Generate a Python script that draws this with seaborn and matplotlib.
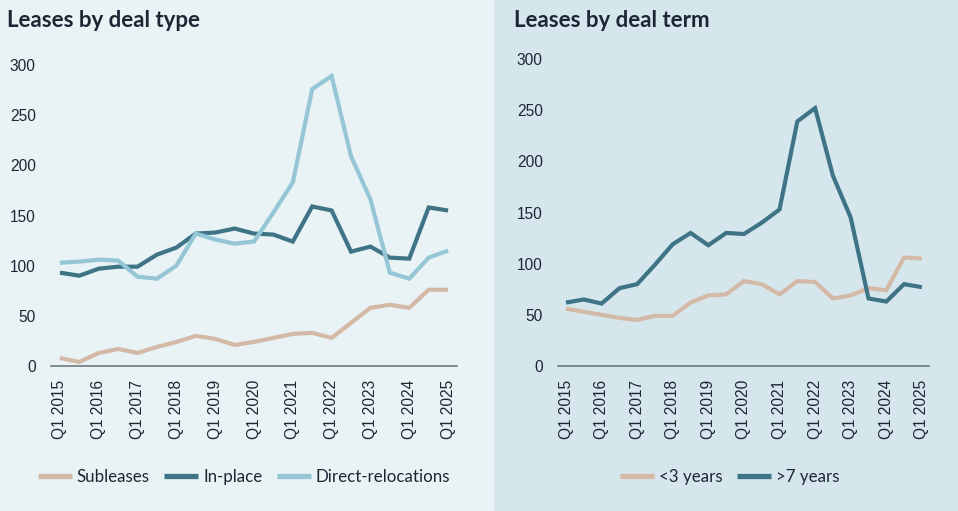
import numpy as np
import pandas as pd
import matplotlib
matplotlib.use("Agg")
import matplotlib.pyplot as plt
import seaborn as sns
from matplotlib.patches import Rectangle

# ---------------- data ----------------
periods = ["Q1 2015", "Q3 2015", "Q1 2016", "Q3 2016", "Q1 2017", "Q3 2017",
           "Q1 2018", "Q3 2018", "Q1 2019", "Q3 2019", "Q1 2020", "Q3 2020",
           "Q1 2021", "Q3 2021", "Q1 2022", "Q3 2022", "Q1 2023", "Q3 2023",
           "Q1 2024", "Q3 2024", "Q1 2025"]
tick_labels = ["Q1 2015", "Q1 2016", "Q1 2017", "Q1 2018", "Q1 2019", "Q1 2020",
               "Q1 2021", "Q1 2022", "Q1 2023", "Q1 2024", "Q1 2025"]

subleases = [8, 4, 13, 17, 13, 19, 24, 30, 27, 21, 24, 28, 32, 33, 28, 43, 58, 61, 58, 76, 76]
in_place = [93, 90, 97, 99, 99, 111, 118, 132, 133, 137, 132, 131, 124, 159, 155, 114, 119, 108, 107, 158, 155]
direct_relocations = [103, 104, 106, 105, 89, 87, 100, 132, 126, 122, 124, 153, 183, 276, 289, 209, 166, 93, 87, 108, 115]

under_3 = [56, 53, 50, 47, 45, 49, 49, 62, 69, 70, 83, 80, 70, 83, 82, 66, 69, 76, 74, 106, 105]
over_7 = [62, 65, 61, 76, 80, 99, 119, 130, 118, 130, 129, 140, 153, 239, 252, 186, 145, 66, 63, 80, 77]

type_names = ["Subleases", "In-place", "Direct-relocations"]
term_names = ["<3 years", ">7 years"]

# ---------------- style ----------------
C_TAN = "#d4b9a7"
C_DARK = "#3f7487"
C_LIGHT = "#95c6d6"
BG_LEFT = "#e9f2f5"
BG_RIGHT = "#d5e7ed"
TXT = "#1d2633"

sns.set_style("white")
plt.rcParams["font.family"] = ["Liberation Sans", "DejaVu Sans"]

idx = list(range(len(periods)))
df_type = pd.DataFrame({
    "x": idx * 3,
    "value": subleases + in_place + direct_relocations,
    "series": [type_names[0]] * len(idx) + [type_names[1]] * len(idx) + [type_names[2]] * len(idx),
})
df_term = pd.DataFrame({
    "x": idx * 2,
    "value": under_3 + over_7,
    "series": [term_names[0]] * len(idx) + [term_names[1]] * len(idx),
})

W, H = 958, 511
fig = plt.figure(figsize=(W / 100, H / 100), dpi=100)
fig.patch.set_facecolor(BG_LEFT)
fig.patches.append(Rectangle((494 / W, 0), 1 - 494 / W, 1, transform=fig.transFigure,
                             facecolor=BG_RIGHT, edgecolor="none", zorder=-10))

def fx(px):
    return px / W

def fy(py):
    return 1 - py / H

axL = fig.add_axes([fx(51), fy(366), fx(457) - fx(51), fy(65) - fy(366)])
axR = fig.add_axes([fx(558), fy(366), fx(929) - fx(558), fy(59) - fy(366)])
axL.set_zorder(5)
axR.set_zorder(5)

sns.lineplot(data=df_type, x="x", y="value", hue="series", hue_order=type_names,
             palette=[C_TAN, C_DARK, C_LIGHT], linewidth=3.0, ax=axL, legend=True)
sns.lineplot(data=df_term, x="x", y="value", hue="series", hue_order=term_names,
             palette=[C_TAN, C_DARK], linewidth=3.0, ax=axR, legend=True)

tick_pos = list(range(0, len(periods), 2))
for ax, xl in ((axL, (-0.46, 20.46)), (axR, (-0.45, 20.4))):
    ax.set_facecolor("none")
    ax.set_xlim(*xl)
    ax.set_ylim(0, 300)
    ax.set_yticks([0, 50, 100, 150, 200, 250, 300])
    ax.set_xticks(tick_pos)
    ax.set_xticklabels(tick_labels, rotation=90)
    ax.tick_params(axis="both", length=0, labelsize=11.2, colors=TXT)
    ax.tick_params(axis="y", pad=11)
    ax.tick_params(axis="x", pad=10)
    ax.set_xlabel("")
    ax.set_ylabel("")
    ax.grid(False)
    for s in ("top", "right", "left"):
        ax.spines[s].set_visible(False)
    ax.spines["bottom"].set_color("#6b7a80")
    ax.spines["bottom"].set_linewidth(1.2)
    for line in ax.get_lines():
        line.set_solid_capstyle("butt")
        line.set_solid_joinstyle("miter")

# legends
for ax, cx, n in ((axL, 244, 3), (axR, 730, 2)):
    handles, labels = ax.get_legend_handles_labels()
    ax.get_legend().remove()
    leg = fig.legend(handles, labels, loc="center", bbox_to_anchor=(fx(cx), fy(477)),
                     ncol=n, frameon=False, handlelength=2.0, handletextpad=0.3,
                     columnspacing=0.85, prop={"family": ["Lato", "DejaVu Sans"], "size": 12.2})
    for t in leg.get_texts():
        t.set_color(TXT)
    for h in leg.get_lines():
        h.set_linewidth(3.8)

fig.text(fx(7), fy(27), "Leases by deal type", fontsize=16, fontweight="bold",
         family=["Lato", "DejaVu Sans"], color=TXT, va="baseline", ha="left")
fig.text(fx(514), fy(27), "Leases by deal term", fontsize=16, fontweight="bold",
         family=["Lato", "DejaVu Sans"], color=TXT, va="baseline", ha="left")

fig.savefig("out.png", dpi=100, facecolor=fig.get_facecolor())
